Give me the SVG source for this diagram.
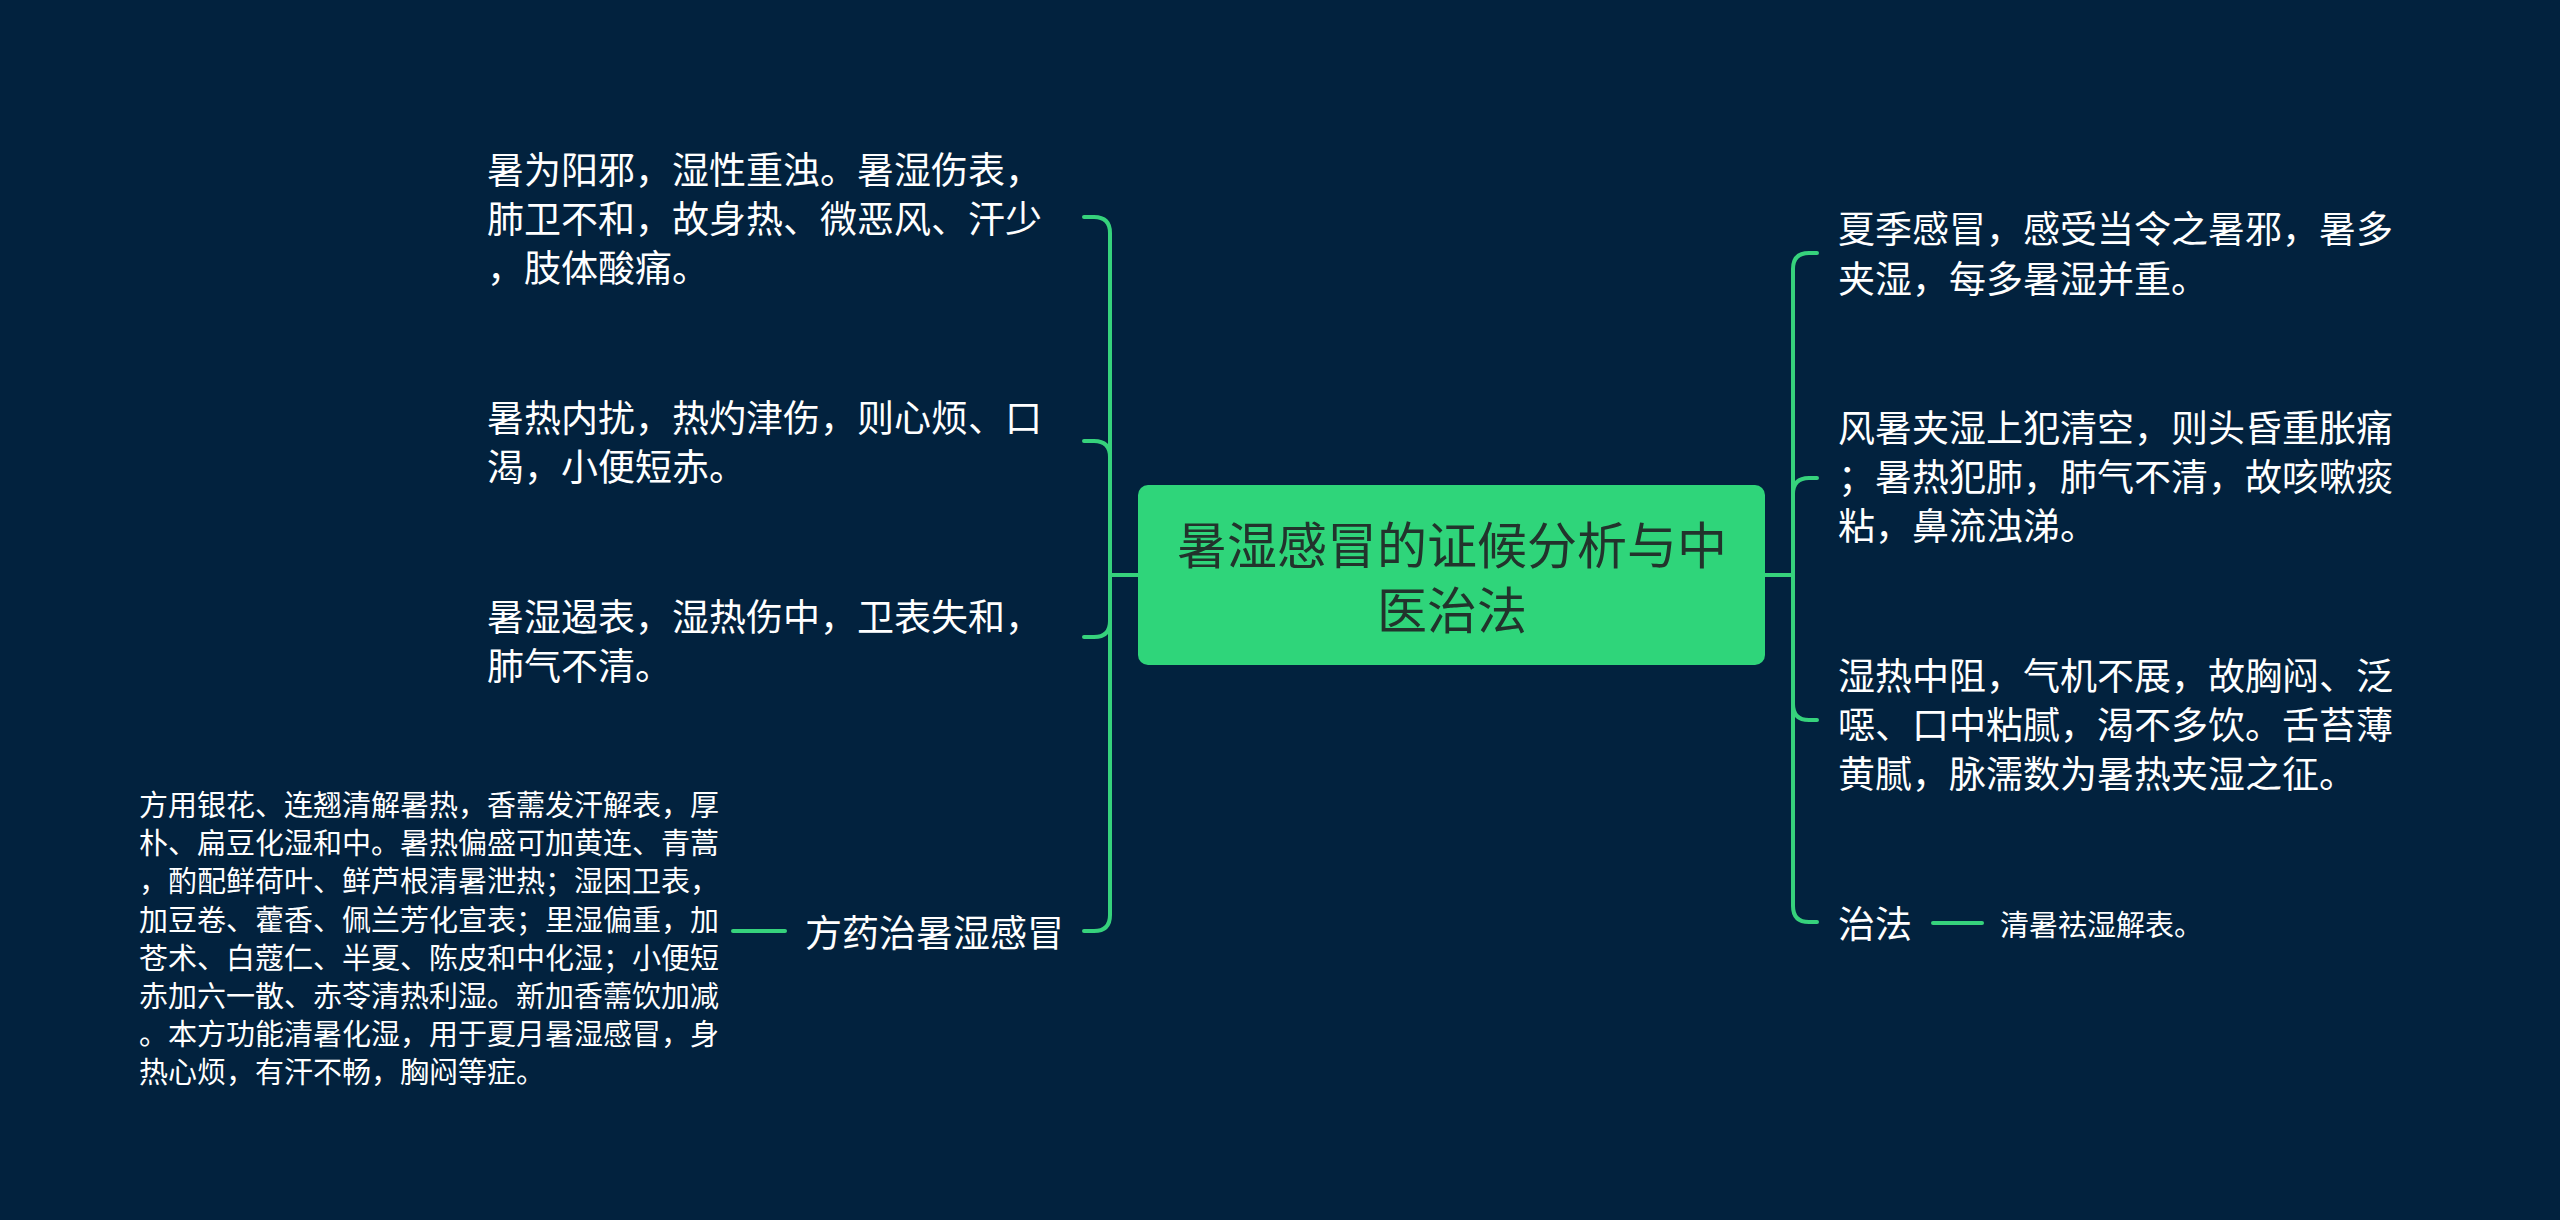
<svg xmlns="http://www.w3.org/2000/svg" width="2560" height="1220" viewBox="0 0 2560 1220">
<style>
.bg{fill:#02223e}
.c{fill:none;stroke:#36d27c;stroke-width:4;stroke-linecap:round}
.t{font-family:"Noto Sans CJK SC","Noto Sans",sans-serif;fill:#ffffff;dominant-baseline:central}
.m{font-size:37px}
.s{font-size:29px}
.root{font-family:"Noto Sans CJK SC","Noto Sans",sans-serif;font-size:50px;fill:#22332c;dominant-baseline:central;text-anchor:middle}
</style>
<rect class="bg" x="0" y="0" width="2560" height="1220"/>
<g id="connectors">
<path class="c" d="M1138 575 H1110"/>
<path class="c" d="M1110 575 V233 Q1110 217 1094 217 H1084"/>
<path class="c" d="M1110 575 V457 Q1110 441 1094 441 H1084"/>
<path class="c" d="M1110 575 V621 Q1110 637 1094 637 H1084"/>
<path class="c" d="M1110 575 V915 Q1110 931 1094 931 H1084"/>
<path class="c" d="M785 931 H733"/>
<path class="c" d="M1765 575 H1793"/>
<path class="c" d="M1793 575 V269 Q1793 253 1809 253 H1817"/>
<path class="c" d="M1793 575 V494 Q1793 478 1809 478 H1817"/>
<path class="c" d="M1793 575 V704 Q1793 720 1809 720 H1817"/>
<path class="c" d="M1793 575 V906 Q1793 922 1809 922 H1817"/>
<path class="c" d="M1933 923 H1982"/>
</g>
<g id="root">
<rect x="1138" y="485" width="627" height="180" rx="10" fill="#2fd57a"/>
<text class="root" x="1452" y="542">暑湿感冒的证候分析与中</text>
<text class="root" x="1452" y="607">医治法</text>
</g>
<g id="l1">
<text class="t m" x="487" y="168">暑为阳邪，湿性重浊。暑湿伤表，</text>
<text class="t m" x="487" y="217">肺卫不和，故身热、微恶风、汗少</text>
<text class="t m" x="487" y="266">，肢体酸痛。</text>
</g>
<g id="l2">
<text class="t m" x="487" y="416">暑热内扰，热灼津伤，则心烦、口</text>
<text class="t m" x="487" y="465">渴，小便短赤。</text>
</g>
<g id="l3">
<text class="t m" x="487" y="615">暑湿遏表，湿热伤中，卫表失和，</text>
<text class="t m" x="487" y="664">肺气不清。</text>
</g>
<g id="l4">
<text class="t m" x="805" y="931">方药治暑湿感冒</text>
</g>
<g id="l4leaf">
<text class="t s" x="139" y="803">方用银花、连翘清解暑热，香薷发汗解表，厚</text>
<text class="t s" x="139" y="841">朴、扁豆化湿和中。暑热偏盛可加黄连、青蒿</text>
<text class="t s" x="139" y="879">，酌配鲜荷叶、鲜芦根清暑泄热；湿困卫表，</text>
<text class="t s" x="139" y="918">加豆卷、藿香、佩兰芳化宣表；里湿偏重，加</text>
<text class="t s" x="139" y="956">苍术、白蔻仁、半夏、陈皮和中化湿；小便短</text>
<text class="t s" x="139" y="994">赤加六一散、赤苓清热利湿。新加香薷饮加减</text>
<text class="t s" x="139" y="1032">。本方功能清暑化湿，用于夏月暑湿感冒，身</text>
<text class="t s" x="139" y="1070">热心烦，有汗不畅，胸闷等症。</text>
</g>
<g id="r1">
<text class="t m" x="1838" y="227">夏季感冒，感受当令之暑邪，暑多</text>
<text class="t m" x="1838" y="277">夹湿，每多暑湿并重。</text>
</g>
<g id="r2">
<text class="t m" x="1838" y="426">风暑夹湿上犯清空，则头昏重胀痛</text>
<text class="t m" x="1838" y="475">；暑热犯肺，肺气不清，故咳嗽痰</text>
<text class="t m" x="1838" y="524">粘，鼻流浊涕。</text>
</g>
<g id="r3">
<text class="t m" x="1838" y="674">湿热中阻，气机不展，故胸闷、泛</text>
<text class="t m" x="1838" y="723">噁、口中粘腻，渴不多饮。舌苔薄</text>
<text class="t m" x="1838" y="772">黄腻，脉濡数为暑热夹湿之征。</text>
</g>
<g id="r4">
<text class="t m" x="1838" y="922">治法</text>
</g>
<g id="r4leaf">
<text class="t s" x="2000" y="923">清暑祛湿解表。</text>
</g>
</svg>
